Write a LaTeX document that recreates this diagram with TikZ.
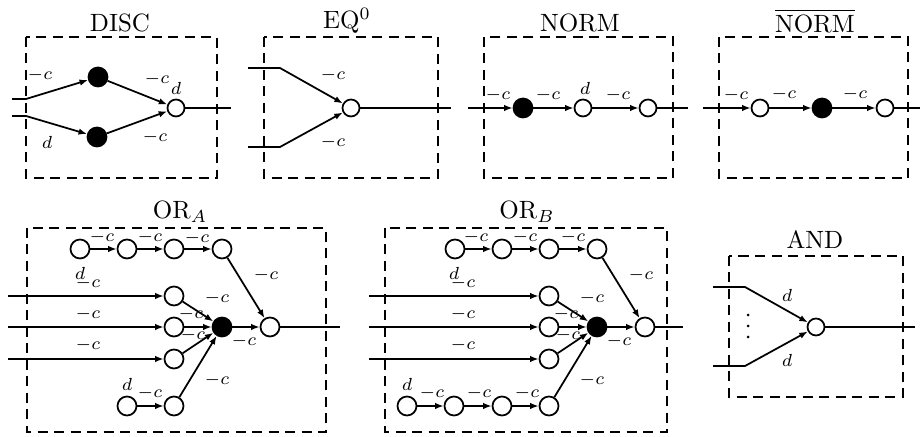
\documentclass[tikz,border=0pt]{standalone}
\usetikzlibrary{arrows.meta}
\tikzset{
  box/.style={draw, line width=0.7pt, dash pattern=on 4pt off 2.6pt},
  wn/.style={circle, draw, fill=white, line width=0.7pt, minimum size=6.8pt, inner sep=0pt},
  wnb/.style={circle, draw, fill=white, line width=0.7pt, minimum size=7.6pt, inner sep=0pt},
  bn/.style={circle, draw, fill=black, line width=0.7pt, minimum size=7.6pt, inner sep=0pt},
  lbl/.style={font=\scriptsize, inner sep=0pt},
  ttl/.style={inner sep=0pt},
  ar/.style={line width=0.7pt, -{Latex[length=3.4pt,width=2.6pt]}},
  ln/.style={line width=0.7pt}
}
\begin{document}
\begin{tikzpicture}[x=0.4pt,y=-0.4pt]
\useasboundingbox (0,0) rectangle (920,437);
% DISC
\draw[box] (26,37) rectangle (217,178);
\node[ttl] (tdisc) at (120,23) {DISC};
\coordinate (d1) at (12,99);
\coordinate (d2) at (26,99);
\coordinate (d3) at (12,116);
\coordinate (d4) at (26,116);
\coordinate (d5) at (231,108);
\node[bn] (dv1) at (98,77) {};
\node[bn] (dv2) at (97,137) {};
\node[wn] (dv3) at (176,108) {};
\draw[ar] (d1) -- (d2) -- (dv1);
\draw[ar] (d3) -- (d4) -- (dv2);
\draw[ar] (dv1) -- (dv3);
\draw[ar] (dv2) -- (dv3);
\draw[ln] (dv3) -- (d5);
\node[lbl] (dl1) at (40,75) {$-c$};
\node[lbl] (dl2) at (47,142) {$d$};
\node[lbl] (dl3) at (157,79) {$-c$};
\node[lbl] (dl4) at (176,88) {$d$};
\node[lbl] (dl5) at (155,137) {$-c$};
% EQ^0
\draw[box] (264,37) rectangle (438,178);
\node[ttl] (teq) at (347,21) {EQ$^0$};
\coordinate (e1) at (248,68);
\coordinate (e2) at (280,68);
\coordinate (e3) at (248,147);
\coordinate (e4) at (280,147);
\coordinate (e5) at (451,108);
\node[wn] (ev1) at (351,108) {};
\draw[ar] (e1) -- (e2) -- (ev1);
\draw[ar] (e3) -- (e4) -- (ev1);
\draw[ln] (ev1) -- (e5);
\node[lbl] (el1) at (333,75) {$-c$};
\node[lbl] (el2) at (333,142) {$-c$};
% NORM
\draw[box] (484,37) rectangle (673,178);
\node[ttl] (tnorm) at (580,23) {NORM};
\coordinate (n1) at (468,108);
\coordinate (n2) at (688,108);
\node[bn] (nv1) at (523,108) {};
\node[wn] (nv2) at (583,108) {};
\node[wn] (nv3) at (648,108) {};
\draw[ar] (n1) -- (nv1);
\draw[ar] (nv1) -- (nv2);
\draw[ar] (nv2) -- (nv3);
\draw[ln] (nv3) -- (n2);
\node[lbl] (nl1) at (498,95) {$-c$};
\node[lbl] (nl2) at (548,95) {$-c$};
\node[lbl] (nl3) at (585,88) {$d$};
\node[lbl] (nl4) at (618,95) {$-c$};
% NORM bar
\draw[box] (719,37) rectangle (908,178);
\node[ttl] (tbar) at (815,21) {$\overline{\mbox{NORM}}$};
\coordinate (q1) at (703,108);
\coordinate (q2) at (920,108);
\node[wn] (qv1) at (760,108) {};
\node[bn] (qv2) at (822,108) {};
\node[wn] (qv3) at (885,108) {};
\draw[ar] (q1) -- (qv1);
\draw[ar] (qv1) -- (qv2);
\draw[ar] (qv2) -- (qv3);
\draw[ln] (qv3) -- (q2);
\node[lbl] (ql1) at (736,95) {$-c$};
\node[lbl] (ql2) at (784,94) {$-c$};
\node[lbl] (ql3) at (855,94) {$-c$};
% OR_A
\draw[box] (27,228) rectangle (326,432);
\node[ttl] (tora) at (180,212) {OR$_A$};
\node[wnb] (at1) at (80,249) {};
\node[wnb] (at2) at (127,249) {};
\node[wnb] (at3) at (174,249) {};
\node[wnb] (at4) at (222,249) {};
\coordinate (ai1) at (8,296);
\coordinate (ai2) at (8,327);
\coordinate (ai3) at (8,359);
\node[wnb] (am1) at (174,296) {};
\node[wnb] (am2) at (174,327) {};
\node[wnb] (am3) at (174,359) {};
\node[wnb] (ab1) at (127,406) {};
\node[wnb] (ab2) at (174,406) {};
\node[bn] (ak) at (222,327) {};
\node[wnb] (ao) at (270,327) {};
\coordinate (ae) at (340,327);
\draw[ar] (at1) -- (at2);
\draw[ar] (at2) -- (at3);
\draw[ar] (at3) -- (at4);
\draw[ar] (ai1) -- (am1);
\draw[ar] (ai2) -- (am2);
\draw[ar] (ai3) -- (am3);
\draw[ar] (ab1) -- (ab2);
\draw[ar] (am1) -- (ak);
\draw[ar] (am2) -- (ak);
\draw[ar] (am3) -- (ak);
\draw[ar] (ab2) -- (ak);
\draw[ar] (ak) -- (ao);
\draw[ar] (at4) -- (ao);
\draw[ln] (ao) -- (ae);
\node[lbl] (al1) at (102,237) {$-c$};
\node[lbl] (al2) at (150,237) {$-c$};
\node[lbl] (al3) at (197,238) {$-c$};
\node[lbl] (al4) at (80,273) {$d$};
\node[lbl] (al5) at (88,283) {$-c$};
\node[lbl] (al6) at (88,314) {$-c$};
\node[lbl] (al7) at (88,345) {$-c$};
\node[lbl] (al8) at (127,384) {$d$};
\node[lbl] (al9) at (150,393) {$-c$};
\node[lbl] (al10) at (217,298) {$-c$};
\node[lbl] (al11) at (191,314) {$-c$};
\node[lbl] (al12) at (193,335) {$-c$};
\node[lbl] (al13) at (217,380) {$-c$};
\node[lbl] (al14) at (244,341) {$-c$};
\node[lbl] (al15) at (266,275) {$-c$};
% OR_B
\draw[box] (385,228) rectangle (667,432);
\node[ttl] (torb) at (527,212) {OR$_B$};
\node[wnb] (bt1) at (455,249) {};
\node[wnb] (bt2) at (502,249) {};
\node[wnb] (bt3) at (549,249) {};
\node[wnb] (bt4) at (597,249) {};
\coordinate (bi1) at (369,296);
\coordinate (bi2) at (369,327);
\coordinate (bi3) at (369,359);
\node[wnb] (bm1) at (549,296) {};
\node[wnb] (bm2) at (549,327) {};
\node[wnb] (bm3) at (549,359) {};
\node[wnb] (bb1) at (407,406) {};
\node[wnb] (bb2) at (454,406) {};
\node[wnb] (bb3) at (502,406) {};
\node[wnb] (bb4) at (549,406) {};
\node[bn] (bk) at (597,327) {};
\node[wnb] (bo) at (645,327) {};
\coordinate (be) at (683,327);
\draw[ar] (bt1) -- (bt2);
\draw[ar] (bt2) -- (bt3);
\draw[ar] (bt3) -- (bt4);
\draw[ar] (bi1) -- (bm1);
\draw[ar] (bi2) -- (bm2);
\draw[ar] (bi3) -- (bm3);
\draw[ar] (bb1) -- (bb2);
\draw[ar] (bb2) -- (bb3);
\draw[ar] (bb3) -- (bb4);
\draw[ar] (bm1) -- (bk);
\draw[ar] (bm2) -- (bk);
\draw[ar] (bm3) -- (bk);
\draw[ar] (bb4) -- (bk);
\draw[ar] (bk) -- (bo);
\draw[ar] (bt4) -- (bo);
\draw[ln] (bo) -- (be);
\node[lbl] (bl1) at (476,237) {$-c$};
\node[lbl] (bl2) at (525,237) {$-c$};
\node[lbl] (bl3) at (573,237) {$-c$};
\node[lbl] (bl4) at (454,273) {$d$};
\node[lbl] (bl5) at (463,283) {$-c$};
\node[lbl] (bl6) at (463,314) {$-c$};
\node[lbl] (bl7) at (463,345) {$-c$};
\node[lbl] (bl8) at (407,384) {$d$};
\node[lbl] (bl9) at (432,393) {$-c$};
\node[lbl] (bl10) at (479,393) {$-c$};
\node[lbl] (bl11) at (527,393) {$-c$};
\node[lbl] (bl12) at (592,298) {$-c$};
\node[lbl] (bl13) at (566,314) {$-c$};
\node[lbl] (bl14) at (568,335) {$-c$};
\node[lbl] (bl15) at (592,380) {$-c$};
\node[lbl] (bl16) at (619,341) {$-c$};
\node[lbl] (bl17) at (641,275) {$-c$};
% AND
\draw[box] (729,256) rectangle (903,397);
\node[ttl] (tand) at (815,240) {AND};
\coordinate (g1) at (713,287);
\coordinate (g2) at (745,287);
\coordinate (g3) at (713,366);
\coordinate (g4) at (745,366);
\coordinate (g5) at (915,327);
\node[wn] (gv1) at (816,327) {};
\draw[ar] (g1) -- (g2) -- (gv1);
\draw[ar] (g3) -- (g4) -- (gv1);
\draw[ln] (gv1) -- (g5);
\node[lbl] (gl1) at (787,295) {$d$};
\node[lbl] (gl2) at (787,360) {$d$};
\fill (748,315) circle (0.6pt) (748,326) circle (0.6pt) (748,337) circle (0.6pt);
\end{tikzpicture}
\end{document}
